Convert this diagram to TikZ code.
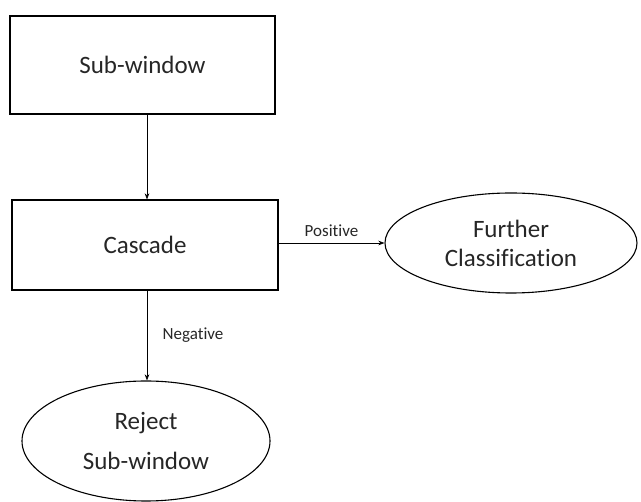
\documentclass[tikz,border=0pt]{standalone}
\usepackage{fontspec}
\setmainfont{Carlito}[Ligatures=NoCommon]
\usetikzlibrary{positioning,arrows.meta,shapes.geometric}
\tikzset{
  >=Stealth,
  box/.style={draw, line width=1.1pt, minimum width=265pt, minimum height=98pt, font=\fontsize{25}{29}\selectfont},
  oval/.style={draw, ellipse, line width=1.1pt, font=\fontsize{25}{29}\selectfont, align=center, inner sep=0pt},
  lbl/.style={font=\fontsize{17}{19}\selectfont},
}

\begin{document}
\begin{tikzpicture}[
  ->, line width=0.7pt,
  every node/.style={text=black!85}
]
\useasboundingbox (0,0) rectangle (641pt,-502pt);

\node[box] (subwin) at (142.5pt,-65pt) {Sub-window};
\node[box, minimum width=266pt, minimum height=90pt] (casc) at (145pt,-245pt) {Cascade};
\node[oval, minimum width=252pt, minimum height=100pt] (further) at (511pt,-243pt)
  {Further\\[0pt]Classification};
\node[oval, minimum width=248pt, minimum height=120pt] (reject) at (146pt,-441pt)
  {Reject\\[11pt]Sub-window};

\draw (subwin.south -| 147pt,0) -- (casc.north -| 147pt,0);
\draw (casc.east |- further.west) -- node[lbl, above=3pt] {Positive} (further.west);
\draw (casc.south -| 147pt,0) -- node[lbl, right=12pt] {Negative} (reject.north -| 147pt,0);

\end{tikzpicture}
\end{document}
